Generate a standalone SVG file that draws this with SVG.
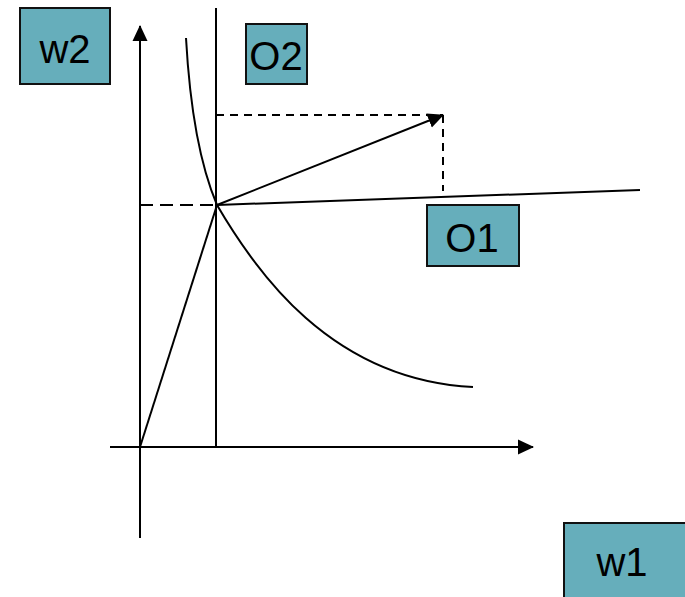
<svg xmlns="http://www.w3.org/2000/svg" width="685" height="597" viewBox="0 0 685 597">
<style>
.box{fill:#66AEBB;stroke:#111;stroke-width:2}
.lbl{font-family:"Liberation Sans",Arial,sans-serif;font-size:40px;fill:#000;text-anchor:middle}
.ln{stroke:#000;stroke-width:2;fill:none}
.dash{stroke:#000;stroke-width:2;fill:none;stroke-dasharray:8,6}
.dashL{stroke:#000;stroke-width:2;fill:none;stroke-dasharray:13,7}
</style>
<defs>
<marker id="ahL" markerWidth="16" markerHeight="16" refX="15" refY="8" orient="auto" markerUnits="userSpaceOnUse" viewBox="0 0 16 16">
<path d="M0,0.5 L16,8 L0,15.5 Z" fill="#000"/>
</marker>
</defs>
<g id="connectors">
<line class="dashL" x1="140" y1="205" x2="217" y2="205"/>
<line class="dash" x1="216" y1="115" x2="443" y2="115"/>
<line class="dash" x1="443" y1="115" x2="443" y2="191"/>
<line class="dash" x1="216" y1="205" x2="216" y2="447"/>
<line class="ln" x1="140" y1="538" x2="140" y2="26" marker-end="url(#ahL)"/>
<line class="ln" x1="110" y1="447" x2="533" y2="447" marker-end="url(#ahL)"/>
<line class="ln" x1="216" y1="8" x2="216" y2="447"/>
<line class="ln" x1="140" y1="447" x2="217" y2="205"/>
<line class="ln" x1="217" y1="205" x2="640" y2="190"/>
<line class="ln" x1="217" y1="205" x2="443" y2="115" marker-end="url(#ahL)"/>
<path class="ln" d="M186,38 C190,110 200,165 217,205 C255,270 330,380 473,387"/>
</g>
<g id="w2"><rect class="box" x="20" y="8" width="90" height="76"/><text class="lbl" x="65" y="63">w2</text></g>
<g id="O2"><rect class="box" x="246" y="24" width="61" height="60"/><text class="lbl" x="276" y="70">O2</text></g>
<g id="O1"><rect class="box" x="427" y="205" width="92" height="61"/><text class="lbl" x="472" y="252">O1</text></g>
<g id="w1"><rect class="box" x="564" y="523" width="130" height="90"/><text class="lbl" x="622" y="576">w1</text></g>
</svg>
